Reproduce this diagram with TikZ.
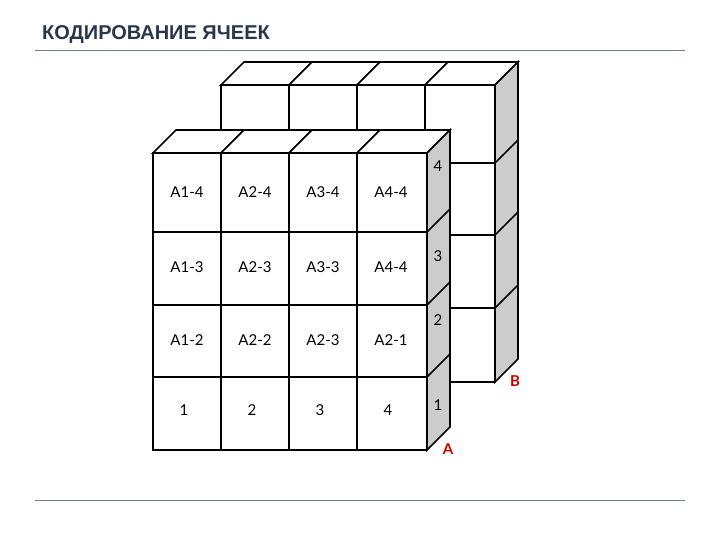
\documentclass[tikz,border=0pt]{standalone}
\usepackage{fontspec}
\setmainfont{Lato}
\newfontfamily\titlefont{Liberation Sans}
\definecolor{slate}{RGB}{40,55,75}
\definecolor{rule}{RGB}{110,130,150}
\begin{document}
\begin{tikzpicture}[x=1pt,y=-1pt,line width=1.6pt,line join=miter,
  face/.style={draw=black,fill=white},
  side/.style={draw=black,fill=black!20},
  lbl/.style={font=\fontsize{15}{18}\selectfont},
  red/.style={text=red!80!black,font=\bfseries\fontsize{15}{18}\selectfont}]
\useasboundingbox (0,0) rectangle (720,540);
\node[anchor=west,text=slate,font=\titlefont\bfseries\fontsize{20}{24}\selectfont] (title) at (38,35) {КОДИРОВАНИЕ ЯЧЕЕК};
\coordinate (l1a) at (35,50); \coordinate (l1b) at (685,50);
\coordinate (l2a) at (35,500); \coordinate (l2b) at (685,500);
\draw[line width=0.8pt,rule] (l1a) -- (l1b);
\draw[line width=0.8pt,rule] (l2a) -- (l2b);
% back block
\foreach \xa/\xb in {221/289,289/357,357/425,425/495}{
  \draw[face] (\xa,85) -- (\xa+23,62) -- (\xb+23,62) -- (\xb,85) -- cycle;
  \foreach \ya/\yb in {85/163,163/235,235/308,308/382}
    \draw[face] (\xa,\ya) rectangle (\xb,\yb);}
\draw[side] (495,85) -- (518,62) -- (518,359) -- (495,382) -- cycle;
\foreach \y in {163,235,308} \draw (495,\y) -- (518,\y-23);
% front block
\foreach \xa/\xb in {153/221,221/289,289/357,357/427}{
  \draw[face] (\xa,153) -- (\xa+23,130) -- (\xb+23,130) -- (\xb,153) -- cycle;
  \foreach \ya/\yb in {153/232,232/305,305/377,377/450}
    \draw[face] (\xa,\ya) rectangle (\xb,\yb);}
\draw[side] (427,153) -- (450,130) -- (450,427) -- (427,450) -- cycle;
\foreach \y in {232,305,377} \draw (427,\y) -- (450,\y-23);
\foreach \t [count=\i] in {A1-4,A2-4,A3-4,A4-4}
  \node[lbl] (r4c\i) at (187+68*\i-68,192) {\t};
\foreach \t [count=\i] in {A1-3,A2-3,A3-3,A4-4}
  \node[lbl] (r3c\i) at (187+68*\i-68,267) {\t};
\foreach \t [count=\i] in {A1-2,A2-2,A2-3,A2-1}
  \node[lbl] (r2c\i) at (187+68*\i-68,340) {\t};
\foreach \t [count=\i] in {1,2,3,4}
  \node[lbl] (r1c\i) at (184+68*\i-68,410) {\t};
\node[lbl] (s4) at (438,166) {4};
\node[lbl] (s3) at (438,256) {3};
\node[lbl] (s2) at (438,320) {2};
\node[lbl] (s1) at (438,405) {1};
\node[red] (B) at (515,381) {B};
\node[red] (A) at (448,449) {A};
\end{tikzpicture}
\end{document}
